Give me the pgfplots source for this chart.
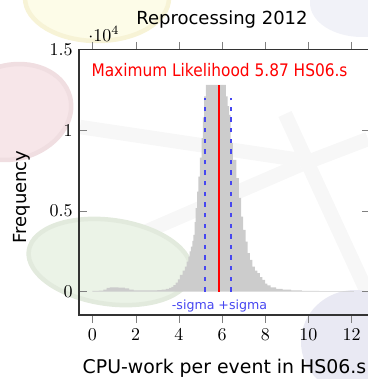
\documentclass[border=0pt]{standalone}
\usepackage{fontspec}
\usepackage{pgfplots}
\pgfplotsset{compat=1.18}
\newfontfamily\comic{DejaVu Sans}
\definecolor{sig}{RGB}{70,70,240}
\definecolor{myred}{RGB}{255,0,0}
\definecolor{ylwin}{RGB}{253,252,232}
\definecolor{ylwrim}{RGB}{247,243,214}
\definecolor{pinkin}{RGB}{247,230,233}
\definecolor{pinkrim}{RGB}{240,222,225}
\definecolor{grnin}{RGB}{235,243,231}
\definecolor{grnrim}{RGB}{226,234,221}
\definecolor{lavin}{RGB}{233,233,243}
\definecolor{bluein}{RGB}{241,242,248}
\definecolor{band}{RGB}{247,247,247}
\definecolor{histgray}{RGB}{204,204,204}
\begin{document}
\begin{tikzpicture}
\begin{scope}[x=0.5556pt,y=0.5556pt]
% faint background watermark
\draw[band,line width=8pt] (80,252) -- (300,219);
\draw[band,line width=8pt] (145,147) -- (300,214);
\draw[band,line width=8pt] (285,265) -- (368,85);
\draw[band,line width=8pt] (300,214) -- (368,240);
\fill[bluein] (362,376) ellipse [x radius=52, y radius=34];
\filldraw[fill=ylwin,draw=ylwrim,line width=2.5pt] (97,381) ellipse [x radius=72, y radius=43];
\filldraw[fill=pinkin,draw=pinkrim,line width=2.5pt,rotate around={15:(12,267)}] (12,267) ellipse [x radius=60, y radius=47];
\filldraw[fill=grnin,draw=grnrim,line width=2.5pt,rotate around={-8:(110,117)}] (110,117) ellipse [x radius=82, y radius=42];
\fill[lavin] (355,37) ellipse [x radius=54, y radius=52];
\end{scope}
\begin{axis}[
  at={(43.89pt,35.56pt)}, anchor=south west,
  scale only axis, width=161.7pt, height=147.5pt,
  xmin=-0.625, xmax=12.85, ymin=-1450, ymax=15000,
  xtick={0,2,...,12}, ytick={0,5000,10000,15000},
  scaled y ticks=base 10:-4,
  xtick align=outside, ytick align=inside,
  axis line style={line width=0.6pt, black!80},
  every y tick scale label/.style={at={(rel axis cs:0.01,1)}, anchor=south west, yshift=1pt},
  clip=false,
]
\addplot[const plot, fill=histgray, draw=none] coordinates {
(0.0,40) (0.3,60) (0.5,120) (0.65,230) (0.8,260) (1.2,250) (1.5,200) (1.7,120)
(1.9,80) (2.5,70) (3.0,90) (3.2,120) (3.4,170) (3.55,230) (3.65,300) (3.75,400)
(3.85,560) (3.95,760) (4.05,1035) (4.17,1300) (4.28,1550) (4.36,1850) (4.44,2170)
(4.5,2500) (4.56,2790) (4.62,3150) (4.67,3515) (4.73,4300) (4.78,5170) (4.84,6200)
(4.9,7130) (4.97,8300) (5.05,9510) (5.11,10800) (5.17,12090) (5.25,12810)
(6.18,12090) (6.26,11500) (6.33,10950) (6.4,9200) (6.5,8165) (6.66,7030)
(6.78,5800) (6.88,4650) (6.98,3825) (7.09,3100) (7.18,2380) (7.29,1965) (7.4,1550)
(7.52,1300) (7.63,1140) (7.75,900) (7.87,725) (7.99,500) (8.1,380) (8.25,260)
(8.5,170) (8.8,120) (9.2,80) (9.7,50) (10.5,30) (12.1,0)
} \closedcycle;
\addplot[draw=myred, line width=1pt, mark=none] coordinates {(5.87,0) (5.87,12810)};
\addplot[draw=sig, line width=1pt, mark=none, dash pattern=on 2.4pt off 3.5pt] coordinates {(5.2,0) (5.2,12000)};
\addplot[draw=sig, line width=1pt, mark=none, dash pattern=on 2.4pt off 3.5pt] coordinates {(6.4,0) (6.4,12000)};
\end{axis}
\begin{scope}[x=0.5556pt,y=0.5556pt]
\node[anchor=base, inner sep=0pt, font=\comic\fontsize{10}{12}\selectfont] at (222,355) {Reprocessing 2012};
\node[anchor=base, inner sep=0pt, text=myred, font=\comic\fontsize{9.6}{11}\selectfont] at (219.5,303) {\scalebox{0.89}[1]{Maximum Likelihood 5.87 HS06.s}};
\node[anchor=base, inner sep=0pt, text=sig, font=\comic\fontsize{7}{8}\selectfont] at (219.5,70) {-sigma +sigma};
\node[anchor=base, inner sep=0pt, rotate=90, font=\comic\fontsize{10}{12}\selectfont] at (26.5,182) {Frequency};
\node[anchor=base, inner sep=0pt, font=\comic\fontsize{10.5}{12}\selectfont] at (224.5,5) {CPU-work per event in HS06.s};
\pgfresetboundingbox
\useasboundingbox (0,0) rectangle (368,379);
\end{scope}
\end{tikzpicture}
\end{document}
